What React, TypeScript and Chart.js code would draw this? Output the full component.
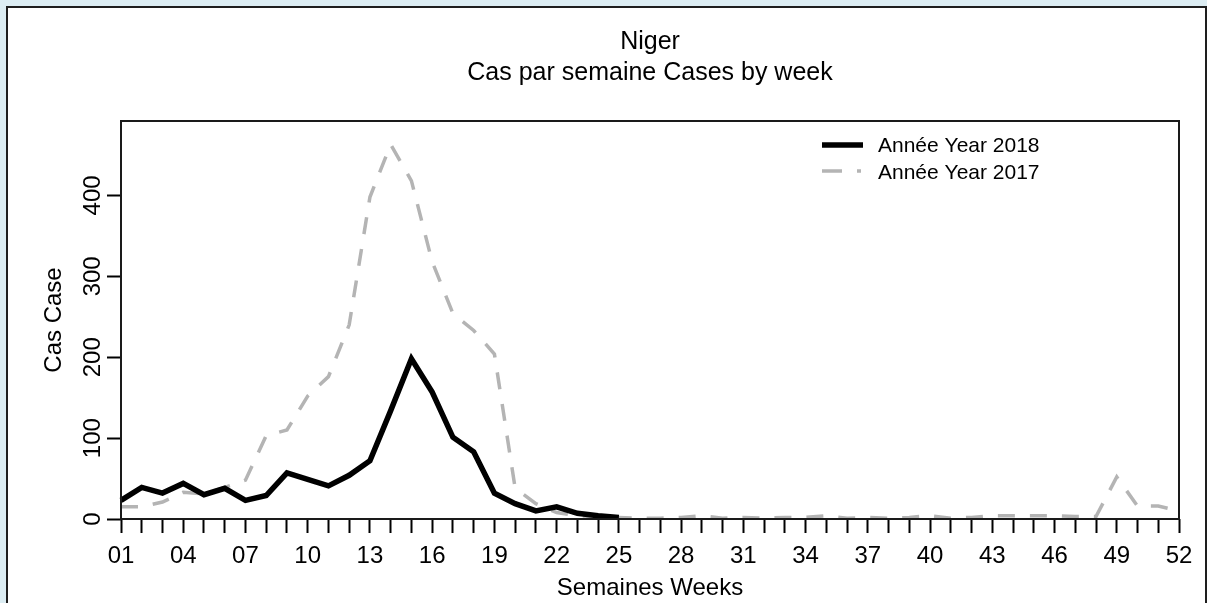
import React, { useEffect, useRef } from "react";
import { Chart, registerables } from "chart.js";

Chart.register(...registerables);

const weekLabels: string[] = Array.from({ length: 52 }, (_, i) => String(i + 1).padStart(2, "0"));

const cases2018: (number | null)[] = [
  23, 39, 32, 44, 30, 38, 23, 29, 57, 49, 41, 54, 72, 134, 198, 157, 101, 83, 32, 19,
  10, 15, 7, 4, 2,
  null, null, null, null, null, null, null, null, null, null, null, null, null, null,
  null, null, null, null, null, null, null, null, null, null, null, null, null,
];

const cases2017: number[] = [
  15, 15, 21, 33, 31, 39, 48, 103, 110, 152, 176, 240, 398, 463, 418, 318, 254, 233, 204, 38,
  19, 8, 4, 3, 2, 1, 1, 2, 4, 1, 2, 1, 2, 2, 4, 1, 2, 1, 2, 4,
  1, 2, 4, 4, 4, 4, 3, 3, 52, 16, 16, 10,
];

const yTickValues: number[] = [0, 100, 200, 300, 400];

const titleLines: string[] = ["Niger", "Cas par semaine Cases by week"];
const seriesNames: string[] = ["Année Year 2018", "Année Year 2017"];
const xAxisTitle = "Semaines Weeks";
const yAxisTitle = "Cas Case";

const FONT = "'Liberation Sans', Arial, sans-serif";
const GRAY = "#b4b4b4";

const framePlugin = {
  id: "frameAndExtras",
  afterDraw(chart: any) {
    const { ctx, chartArea } = chart;
    const ys = chart.scales.y;
    ctx.save();
    // plot frame
    ctx.strokeStyle = "#1a1a1a";
    ctx.lineWidth = 2;
    ctx.strokeRect(chartArea.left, chartArea.top, chartArea.right - chartArea.left, chartArea.bottom - chartArea.top);
    // rotated y tick labels
    ctx.fillStyle = "#000";
    ctx.font = `24px ${FONT}`;
    ctx.textAlign = "center";
    ctx.textBaseline = "middle";
    ys.ticks.forEach((t: any) => {
      const y = ys.getPixelForValue(t.value);
      ctx.save();
      ctx.translate(85, y);
      ctx.rotate(-Math.PI / 2);
      ctx.fillText(String(t.value), 0, 0);
      ctx.restore();
    });
    // legend
    const lx0 = 814;
    const lx1 = 855;
    const tx = 870;
    const rows = [137, 163];
    ctx.font = `21px ${FONT}`;
    ctx.textAlign = "left";
    ctx.lineCap = "butt";
    ctx.strokeStyle = "#000";
    ctx.lineWidth = 5.5;
    ctx.setLineDash([]);
    ctx.beginPath();
    ctx.moveTo(lx0, rows[0]);
    ctx.lineTo(lx1, rows[0]);
    ctx.stroke();
    ctx.strokeStyle = GRAY;
    ctx.lineWidth = 3.5;
    ctx.setLineDash([20, 15]);
    ctx.beginPath();
    ctx.moveTo(lx0, rows[1]);
    ctx.lineTo(lx1 - 2, rows[1]);
    ctx.stroke();
    ctx.setLineDash([]);
    ctx.fillStyle = "#000";
    ctx.fillText(seriesNames[0], tx, rows[0] + 1);
    ctx.fillText(seriesNames[1], tx, rows[1] + 2);
    ctx.restore();
  },
};

export default function App() {
  const canvasRef = useRef<HTMLCanvasElement | null>(null);

  useEffect(() => {
    if (!canvasRef.current) return;
    const chart = new Chart(canvasRef.current, {
      type: "line",
      data: {
        labels: weekLabels,
        datasets: [
          {
            label: seriesNames[0],
            data: cases2018,
            borderColor: "#000",
            borderWidth: 5.5,
            pointRadius: 0,
            tension: 0,
            spanGaps: false,
            fill: false,
          },
          {
            label: seriesNames[1],
            data: cases2017,
            borderColor: GRAY,
            borderWidth: 3.5,
            borderDash: [17, 15],
            pointRadius: 0,
            tension: 0,
            fill: false,
          },
        ],
      },
      plugins: [framePlugin],
      options: {
        responsive: false,
        animation: false,
        events: [],
        layout: { padding: { left: 0, right: 26, top: 0, bottom: 0 } },
        plugins: {
          legend: { display: false },
          tooltip: { enabled: false },
          title: {
            display: true,
            fullSize: false,
            text: titleLines,
            color: "#000",
            font: { family: FONT, size: 25, weight: "normal", lineHeight: 31 / 25 },
            padding: { top: 18.5, bottom: 32.5 },
          },
        },
        scales: {
          x: {
            type: "category",
            offset: false,
            grid: {
              display: true,
              drawOnChartArea: false,
              drawTicks: true,
              tickLength: 14,
              tickWidth: 2,
              tickColor: "#000",
            },
            border: { display: false },
            ticks: {
              autoSkip: false,
              maxRotation: 0,
              minRotation: 0,
              padding: 9,
              color: "#000",
              font: { family: FONT, size: 24 },
              callback: (_v: any, i: number) => (i % 3 === 0 ? weekLabels[i] : ""),
            },
            title: {
              display: true,
              text: xAxisTitle,
              color: "#000",
              font: { family: FONT, size: 24 },
              padding: { top: 0, bottom: 5.6 },
            },
            afterFit: (s: any) => {
              s.height = 89;
            },
          },
          y: {
            type: "linear",
            min: 0,
            max: 492,
            grid: {
              display: true,
              drawOnChartArea: false,
              drawTicks: true,
              tickLength: 14,
              tickWidth: 2,
              tickColor: "#000",
            },
            border: { display: false },
            ticks: { display: false, stepSize: 100, includeBounds: false },
            afterBuildTicks: (s: any) => {
              s.ticks = yTickValues.map((v) => ({ value: v }));
            },
            title: {
              display: true,
              text: yAxisTitle,
              color: "#000",
              font: { family: FONT, size: 24 },
              padding: { top: 31.6, bottom: 0 },
            },
            afterFit: (s: any) => {
              s.width = 113;
            },
          },
        },
      },
    });
    return () => chart.destroy();
  }, []);

  return (
    <div style={{ position: "fixed", left: 0, top: 0, right: 0, bottom: 0, background: "#dcedf3", overflow: "hidden" }}>
      <div
        style={{
          position: "absolute",
          left: 6,
          top: 6,
          width: 1201,
          height: 640,
          border: "2px solid #1e1e1e",
          boxSizing: "border-box",
          background: "#fff",
        }}
      >
        <canvas ref={canvasRef} width={1197} height={600} style={{ display: "block" }} />
      </div>
    </div>
  );
}
